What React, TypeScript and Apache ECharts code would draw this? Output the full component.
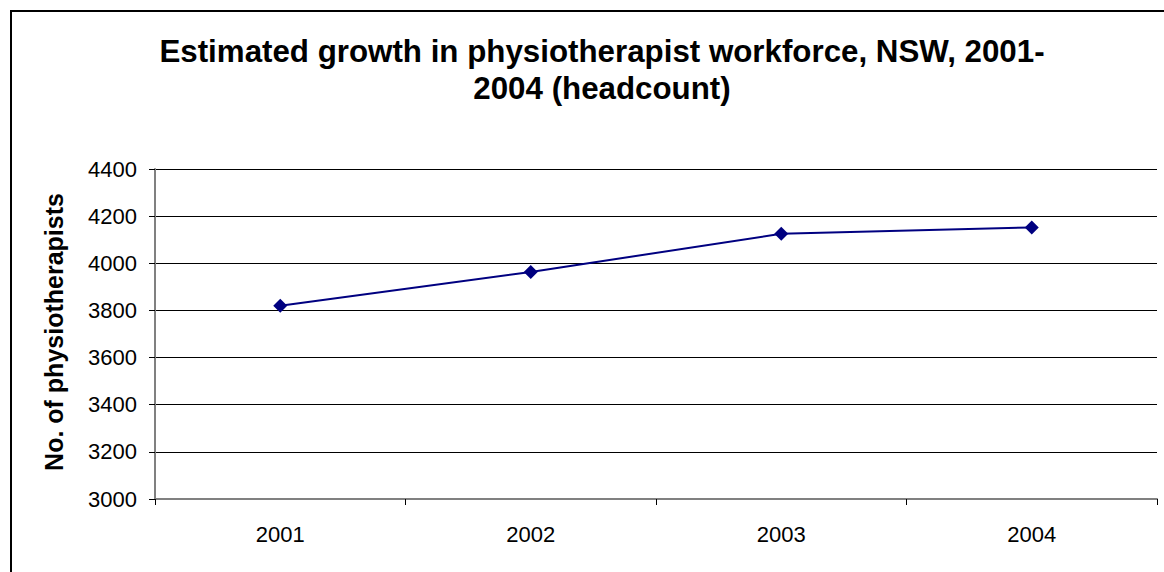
import React, { useEffect, useRef } from "react";
import * as echarts from "echarts";

const titleLines = ["Estimated growth in physiotherapist workforce, NSW, 2001-", "2004 (headcount)"];
const yAxisTitle = "No. of physiotherapists";
const categories = ["2001", "2002", "2003", "2004"];
const headcount = [3820, 3963, 4125, 4152];
const yMin = 3000;
const yMax = 4400;
const yStep = 200;

export default function App() {
  const ref = useRef<HTMLDivElement>(null);
  useEffect(() => {
    if (!ref.current) return;
    const chart = echarts.init(ref.current, null, { renderer: "svg" });
    const font = "'Liberation Sans', Arial, sans-serif";
    chart.setOption({
      animation: false,
      backgroundColor: "#ffffff",
      title: {
        text: titleLines.join("\n"),
        left: 602,
        top: 33,
        padding: 0,
        textAlign: "center",
        textStyle: {
          fontFamily: font,
          fontWeight: "bold",
          fontSize: 31.3,
          lineHeight: 37,
          color: "#000",
        },
      },
      grid: { left: 155, top: 169, right: 7, bottom: 73, containLabel: false },
      xAxis: {
        type: "category",
        data: categories,
        boundaryGap: true,
        axisLine: { lineStyle: { color: "#808080", width: 2 } },
        axisTick: { show: true, inside: false, length: 6, alignWithLabel: false, lineStyle: { color: "#000", width: 1 } },
        axisLabel: { margin: 24, fontFamily: font, fontSize: 22, color: "#000" },
        splitLine: { show: false },
      },
      yAxis: {
        type: "value",
        min: yMin,
        max: yMax,
        interval: yStep,
        axisLine: { show: true, lineStyle: { color: "#808080", width: 2 } },
        axisTick: { show: true, inside: false, length: 6, lineStyle: { color: "#000", width: 1 } },
        axisLabel: {
          margin: 18,
          fontFamily: font,
          fontSize: 22,
          color: "#000",
          formatter: (v: number) => String(v),
        },
        splitLine: { show: true, lineStyle: { color: "#000", width: 1 } },
      },
      series: [
        {
          type: "line",
          data: headcount,
          symbol: "diamond",
          symbolSize: 14,
          lineStyle: { color: "#000080", width: 2 },
          itemStyle: { color: "#000080" },
        },
      ],
      graphic: [
        {
          type: "rect",
          shape: { x: 11, y: 11, width: 1200, height: 620 },
          style: { fill: "none", stroke: "#000", lineWidth: 2 },
          silent: true,
        },
        {
          type: "text",
          x: 54,
          y: 332,
          rotation: Math.PI / 2,
          style: {
            text: yAxisTitle,
            align: "center",
            verticalAlign: "middle",
            font: `bold 25px ${font}`,
            fill: "#000",
          },
        },
      ],
    });
    return () => chart.dispose();
  }, []);
  return (
    <div
      ref={ref}
      style={{ position: "fixed", left: 0, top: 0, width: 1164, height: 572 }}
    />
  );
}
